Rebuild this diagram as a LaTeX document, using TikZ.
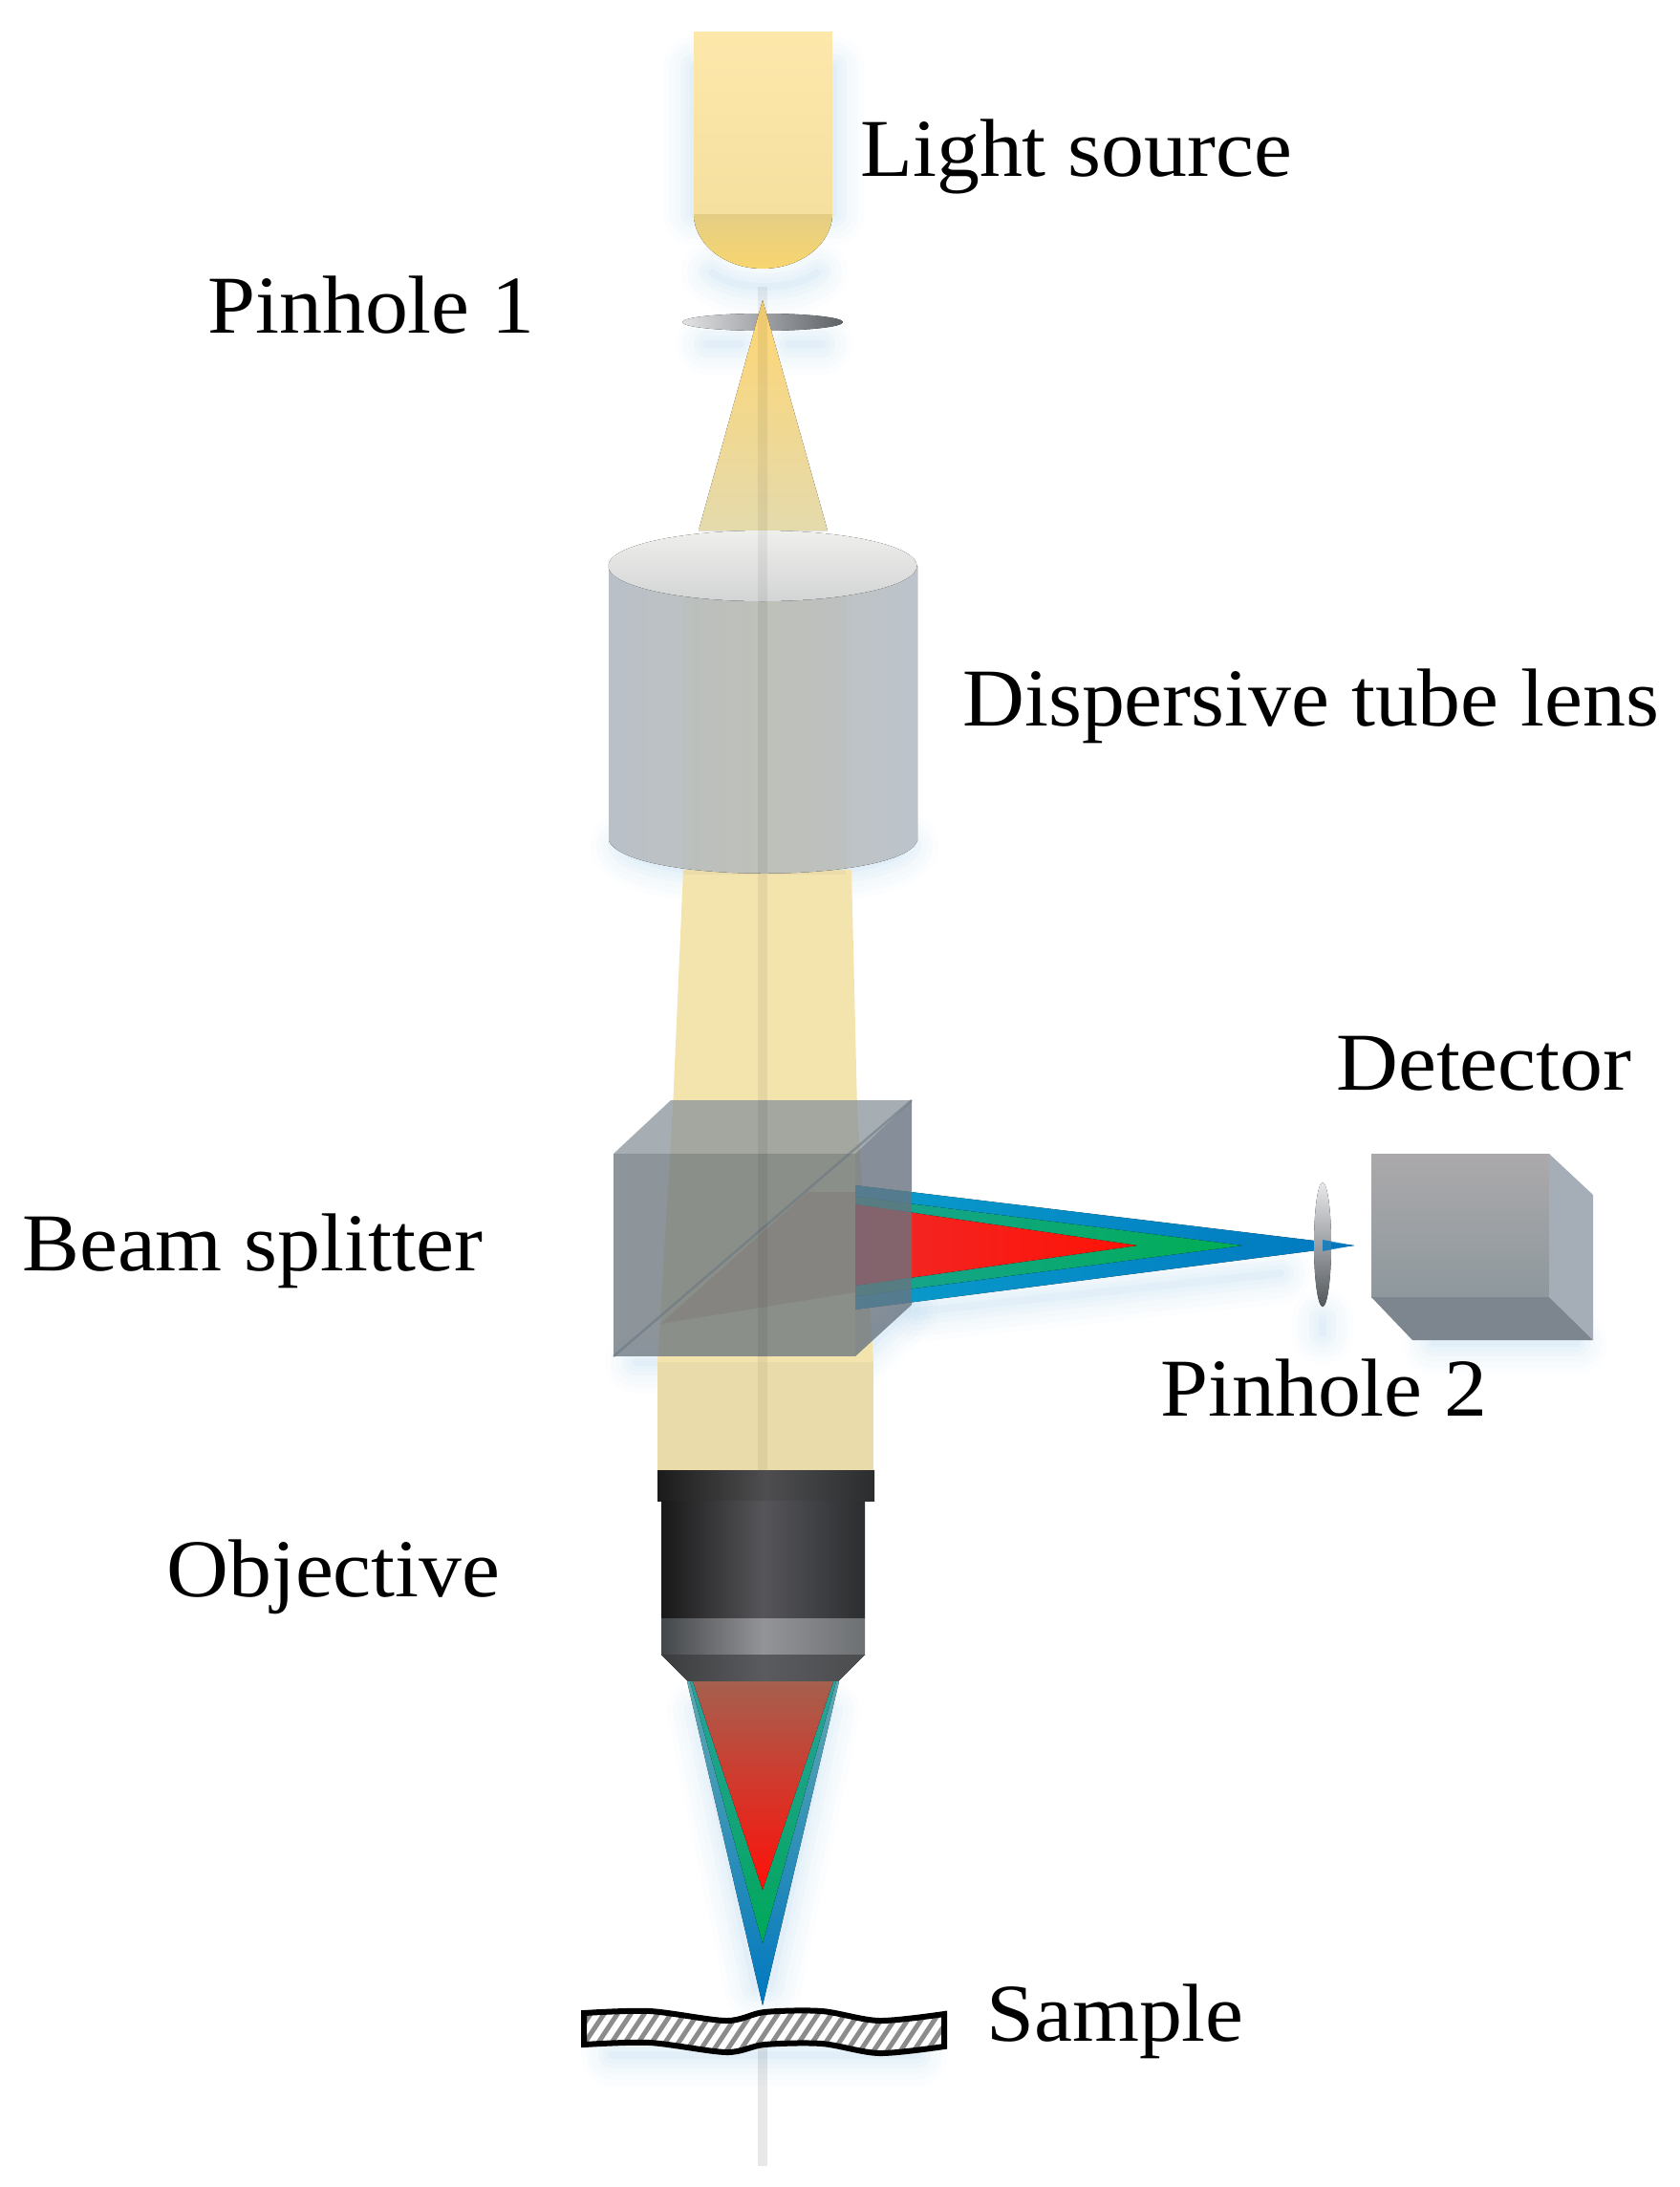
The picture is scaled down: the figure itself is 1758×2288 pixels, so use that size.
\documentclass[tikz,border=0pt]{standalone}
\usepackage{fontspec}
\setmainfont[FakeStretch=1.045]{Liberation Serif}
\newcommand\hexc[1]{\definecolor{#1}{HTML}{#1}}
\hexc{FDE7AA}\hexc{F5E0A0}\hexc{E4CE85}\hexc{F8D56E}\hexc{E2E2E4}\hexc{5E6368}\hexc{9BA3AA}
\hexc{FFD672}\hexc{E4DAAC}\hexc{0A9CCB}\hexc{0078C0}\hexc{18A294}\hexc{00AE52}\hexc{F02828}\hexc{FF1205}
\hexc{B9C0C8}\hexc{BCC3CB}\hexc{BFC2BE}\hexc{EFEFEC}\hexc{D3D4D5}\hexc{ABA9AB}\hexc{8E989D}\hexc{A5AEB6}\hexc{7D868E}
\hexc{E8E8EA}\hexc{52585D}\hexc{1B1B1B}\hexc{2A2C2E}\hexc{4E4E50}\hexc{181818}\hexc{2B2D2F}\hexc{56565A}
\hexc{44474A}\hexc{6D7072}\hexc{939498}\hexc{3A3C3E}\hexc{4A4C4E}\hexc{5A5B5E}\hexc{60A8B0}\hexc{28A09C}\hexc{00A858}\hexc{A5604F}\hexc{FF1008}
\begin{document}
\begin{tikzpicture}[x=1pt,y=-1pt,
  lbl/.style={anchor=base west,inner sep=0pt,text=black,font=\fontsize{86}{90}\selectfont},
  axisline/.style={line width=10pt,draw=black,opacity=.06},
  beamfill/.style={fill=beamc,draw=none}]
\definecolor{beamc}{HTML}{F3E4AE}
\definecolor{glowc}{HTML}{6FB8F0}
\definecolor{cubeF}{HTML}{6E7880}
\definecolor{cubeT}{HTML}{8A939A}
\definecolor{cubeS}{HTML}{687480}
\newcommand\glowstroke[1]{\foreach \w/\o in {64/.018,52/.022,40/.028,28/.034,18/.04,8/.05}{\draw[glowc,line width=\w pt,opacity=\o,line join=round,line cap=round] #1;}}
\useasboundingbox (0,0) rectangle (1758,2288);
\fill[white] (0,0) rectangle (1758,2288);
% glows
\glowstroke{(726,70)--(726,224) (872,70)--(872,224)}
\glowstroke{(745,285) .. controls (770,305) and (830,305) .. (855,285)}
\glowstroke{(740,360)--(775,360) (825,360)--(860,360)}
\glowstroke{(650,885) .. controls (670,925) and (930,925) .. (950,885)}
\glowstroke{(665,1425)--(893,1425)--(950,1370)}
\glowstroke{(1500,1405)--(1650,1405)}
\glowstroke{(1384,1380)--(1384,1395)}
\glowstroke{(960,1372)--(1340,1332)}
\glowstroke{(730,1790)--(790,2080) (868,1790)--(806,2080)}
\glowstroke{(640,2150)--(960,2150)}
% light source
\fill[top color=FDE7AA,bottom color=F5E0A0] (726,34) rectangle (871,224);
\fill[top color=E4CE85,bottom color=F8D56E] (726,224) -- (871,224) .. controls (871,255) and (838,281) .. (798,281) .. controls (758,281) and (726,255) .. (726,224) -- cycle;
% pinhole 1
\fill[left color=E2E2E4,right color=5E6368] (798,337) ellipse [x radius=84,y radius=9];
% cone
\fill[top color=FFD672,bottom color=E4DAAC] (798,314) -- (866,555) -- (731,555) -- cycle;
% beams
\fill[beamfill] (715,910) -- (891,910) -- (897,1160) -- (704,1160) -- cycle;
\fill[beamfill] (704,1160) -- (897,1160) -- (914,1425) -- (688,1425) -- cycle;
\fill[beamc!92!gray] (688,1425) -- (914,1425) -- (914,1540) -- (688,1540) -- cycle;
% reflected beam
\fill[red!60!black,opacity=.22] (895,1247) -- (845,1247) -- (691,1385) -- (895,1352) -- cycle;
\fill[left color=0A9CCB,right color=0078C0] (895,1240) -- (1417,1303) -- (895,1370) -- cycle;
\fill[left color=18A294,right color=00AE52] (895,1252) -- (1300,1303) -- (895,1356) -- cycle;
\fill[left color=F02828,right color=FF1205] (895,1260) -- (1190,1303) -- (895,1345) -- cycle;
% lens
\fill[left color=B9C0C8,right color=BCC3CB,middle color=BFC2BE] (637,592) -- (637,880) .. controls (660,925) and (940,925) .. (960,880) -- (960,592) -- cycle;
\fill[beamc!50!gray,opacity=.12] (715,620) rectangle (885,915);
\fill[top color=EFEFEC,bottom color=D3D4D5] (798,592) ellipse [x radius=161.5,y radius=37];
% cube
\fill[cubeT,opacity=.75] (642,1207) -- (702,1151) -- (954,1151) -- (895,1207) -- cycle;
\fill[cubeS,opacity=.80] (895,1207) -- (954,1151) -- (954,1365) -- (895,1419) -- cycle;
\fill[cubeF,opacity=.78] (642,1207) rectangle (895,1419);
\draw[cubeS,line width=2.5pt,opacity=.55] (642,1419) -- (954,1151);
% detector
\fill[top color=ABA9AB,bottom color=8E989D] (1435,1207) rectangle (1621,1357);
\fill[A5AEB6] (1621,1207) -- (1667,1250) -- (1667,1402) -- (1621,1357) -- cycle;
\fill[7D868E] (1435,1357) -- (1621,1357) -- (1667,1402) -- (1478,1402) -- cycle;
% pinhole 2
\fill[top color=E8E8EA,bottom color=52585D] (1384,1302) ellipse [x radius=9,y radius=65];
\fill[0078C0,opacity=.8] (1384,1297) -- (1417,1303) -- (1384,1309) -- cycle;
% objective
\fill[left color=1B1B1B,right color=2A2C2E,middle color=4E4E50] (688,1538) rectangle (915,1570);
\fill[left color=181818,right color=2B2D2F,middle color=56565A] (692,1570) rectangle (905,1693);
\fill[left color=44474A,right color=6D7072,middle color=939498] (692,1693) rectangle (905,1731);
\fill[left color=3A3C3E,right color=4A4C4E,middle color=5A5B5E] (692,1731) -- (905,1731) -- (877,1759) -- (720,1759) -- cycle;
% focus cone
\fill[top color=60A8B0,bottom color=0078C0] (719,1759) -- (878,1759) -- (798,2098) -- cycle;
\fill[top color=28A09C,bottom color=00A858] (722,1759) -- (875,1759) -- (798,2033) -- cycle;
\fill[top color=A5604F,bottom color=FF1008] (725,1759) -- (872,1759) -- (798,1977) -- cycle;
% axis
\draw[axisline] (798,300) -- (798,1538);
\draw[axisline,opacity=.09] (798,2140) -- (798,2266);
% sample
\begin{scope}
\clip plot[smooth] coordinates {(611,2106) (680,2104) (760,2114) (800,2105) (860,2104) (920,2114) (988,2107)} -- plot[smooth] coordinates {(988,2141) (920,2148) (860,2138) (800,2139) (760,2147) (680,2137) (611,2139)} -- cycle;
\fill[white] (600,2090) rectangle (1000,2160);
\foreach \i in {-2,...,30}{\draw[black!45,line width=5pt] (600+\i*14,2155) -- (640+\i*14,2095);}
\end{scope}
\draw[black,line width=6pt,line join=miter] plot[smooth] coordinates {(611,2106) (680,2104) (760,2114) (800,2105) (860,2104) (920,2114) (988,2107)} -- plot[smooth] coordinates {(988,2141) (920,2148) (860,2138) (800,2139) (760,2147) (680,2137) (611,2139)} -- cycle;
% labels
\node[lbl] (light) at (900,184) {Light source};
\node[lbl] (ph1) at (217,348) {Pinhole 1};
\node[lbl] (lens) at (1007,759) {Dispersive tube lens};
\node[lbl] (det) at (1398,1140) {Detector};
\node[lbl] (bs) at (23,1329) {Beam splitter};
\node[lbl] (ph2) at (1214,1481) {Pinhole 2};
\node[lbl] (obj) at (174,1670) {Objective};
\node[lbl] (smp) at (1032,2135) {Sample};
\end{tikzpicture}
\end{document}
